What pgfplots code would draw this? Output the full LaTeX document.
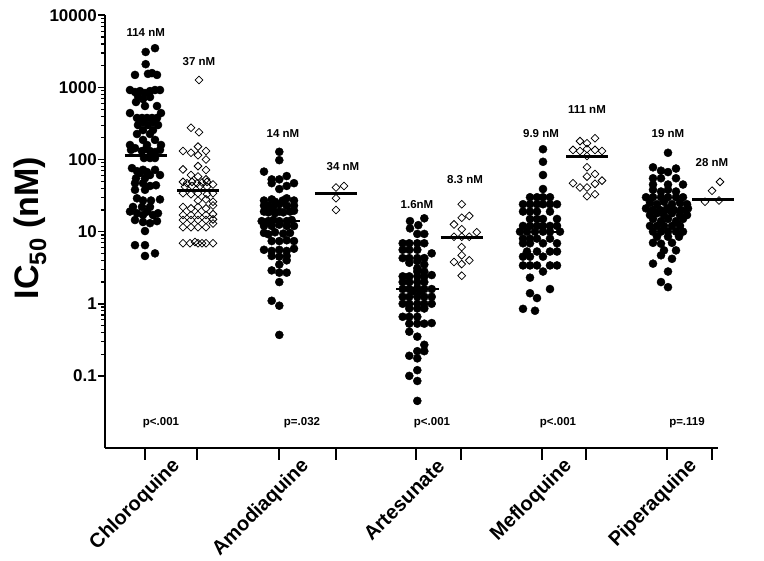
\documentclass[border=0pt]{standalone}
\usepackage{pgfplots}
\pgfplotsset{compat=1.18}
\usepackage{fontspec}
\setmainfont{Liberation Sans}
\pgfplotsset{
  blk/.style={only marks, mark=*, mark size=4.05pt, black},
  dia/.style={only marks, mark=square, mark size=2.75pt, black, line width=0.75pt, mark options={rotate=45, fill=white}},
}
\begin{document}
\begin{tikzpicture}
\useasboundingbox (-105pt,-113pt) rectangle (659pt,448pt);
\begin{axis}[
  scale only axis, width=613pt, height=432.7pt,
  xmin=105, xmax=718, ymin=0.01, ymax=10000, ymode=log,
  axis x line*=bottom, axis y line*=left,
  axis line style={line width=2.4pt, -},
  xtick=\empty,
  ytick={0.1,1,10,100,1000,10000},
  yticklabels={0.1,1,10,100,1000,10000},
  minor ytick={0.2,0.3,0.4,0.5,0.6,0.7,0.8,0.9,2,3,4,5,6,7,8,9,20,30,40,50,60,70,80,90,200,300,400,500,600,700,800,900,2000,3000,4000,5000,6000,7000,8000,9000},
  tick align=outside, major tick length=7pt, minor tick length=4pt,
  tick style={line width=1.6pt, black},
  minor tick style={line width=1.2pt},
  yticklabel style={font=\bfseries\fontsize{17}{17}\selectfont, inner sep=1pt},
  clip=false,
]
% Chloroquine
\addplot[blk] coordinates {
(155,3500)(145.7,3100)(145.7,2100)
(135,1490)(148,1540)(152,1580)(157,1490)
(130,920)(135,863)(140,890)(145,836)(150,890)(155,920)(160,920)(138,760)(150,736)(143,690)
(136,627)(145,552)(157,552)(130,441)(161,441)
(137,377)(142,377)(147,377)(152,377)(157,377)
(143,331)(153,331)(138,301)(148,301)(158,301)
(143,256)(153,256)(137,226)(150,226)
(143,187)(155,187)(130,159)(147,159)(161,159)
(131,136)(135,144)(142,131)(146,140)(150,131)(155,127)(160,136)(144,105)(150,105)(155,105)
(132,76)(137,69)(140,65)(143,72)(147,67)(150,61)(155,72)(160,61)(136,55)(145,55)
(135,47)(143,47)(150,43)(156,44)(135,38)(145,38)
(137,29)(143,27)(151,27)(160,28)(133,22)(142,22)(150,22)
(130,19)(137,18)(143,17)(147,19)(153,17)(158,18)
(135,14.5)(143,13.6)(150,13.1)(157,14)(145,10.2)
(135,6.5)(145,6.5)(145,4.6)(155,5.0)
};
\addplot[dia] coordinates {
(199,1270)(191,276)(199,239)
(183,131)(191,124)(198,151)(206,131)
(198,115)(206,100)
(198,81)(183,73)(206,71.5)
(191,61)(198,58)(206,53)
(183,49)(187,47)(192,49)(197,47)(202,48)(207,49)(213,45)(185,42)(192,43)(200,43)(207,42)
(183,34)(191,33)(198,34)(207,33)(213,34)
(198,27)(206,28)(213,26)
(183,22)(191,21)(198,22)(206,21)(213,23)
(183,17)(191,17)(198,17)(206,17)(213,17.5)
(183,14.5)(191,14.5)(198,14.5)(206,14.5)(213,14.8)
(183,11.5)(191,11.5)(198,11.5)(206,11.5)(213,13)
(183,6.9)(190,6.9)(195,7.2)(198,6.9)(202,6.9)(206,6.9)(213,6.9)
};
% Amodiaquine
\addplot[blk] coordinates {
(279.3,128)(279.3,98)(264,68)(286.7,59)(271.7,53)(279.3,53)(271.7,47)(294,47)(286.7,43)(279.3,39)
(264,27)(271.7,28)(275,26)(282.7,27)(286.7,29)(294,27)
(264,23)(268.3,23)(273.3,22)(279.3,24)(286.7,23)(294,23)
(264,19)(268.3,18.5)(271.7,19.5)(275,18)(279.3,19)(283.3,18.5)(290,19)(294,19.5)
(261.7,14)(268.3,14)(273.3,14.5)(279.3,14)(286.7,14)(291.7,14.5)
(264,12)(271.7,12)(279.3,12.5)(286.7,12)(294,12)
(264,9.6)(268.3,9.2)(275,9.8)(283.3,9.4)(290,9.6)
(271.7,7.4)(279.3,7.4)(286.7,7.6)(294,7.4)
(264,5.6)(271.7,5.4)(279.3,5.6)(286.7,5.4)(294,5.8)
(271.7,4.6)(279.3,4.5)(286.7,4.6)
(286.7,4.0)(279.3,3.5)(271.7,2.9)(279.3,2.7)(286.7,2.7)(279.3,2.0)(271.7,1.1)(279.3,0.94)(279.3,0.37)
};
\addplot[dia] coordinates {
(336,41)(344,43)(336,29)(336,20)
};
% Artesunate
\addplot[blk] coordinates {
(410,14)(424.3,15.3)(418.3,12.3)(410,11.1)(417.3,9.3)(424.3,9.3)
(402.7,6.9)(409.3,6.9)(417.3,6.9)(424.3,6.9)
(402.7,5.6)(409.3,5.6)(417.3,5.6)(431.7,5.0)
(402.7,4.3)(409.3,4.3)(417.3,4.3)(424.3,4.3)
(409.3,3.7)(417.3,3.9)(424.3,3.5)(417.3,3.1)
(417.3,2.8)(424.3,2.8)
(402.7,2.4)(409.3,2.4)(417.3,2.4)(424.3,2.4)(431.7,2.5)
(402.7,2.0)(409.3,2.0)(417.3,2.0)(424.3,2.0)
(402.7,1.6)(409.3,1.6)(417.3,1.65)(424.3,1.6)(431.7,1.6)(413.3,1.5)(420,1.5)
(402.7,1.25)(409.3,1.25)(417.3,1.25)(424.3,1.25)(431.7,1.25)
(402.7,1.0)(409.3,1.0)(417.3,1.0)(424.3,1.0)(431.7,1.0)
(409.3,0.86)(417.3,0.86)(424.3,0.86)
(402.7,0.66)(409.3,0.66)(417.3,0.66)
(409.3,0.53)(417.3,0.53)(424.3,0.53)(431.7,0.54)
(409.3,0.41)(417.3,0.35)(424.3,0.27)(417.3,0.22)(424.3,0.22)(409.3,0.19)(417.3,0.175)(417.3,0.12)(409.3,0.10)(417.3,0.085)(417.3,0.045)
};
\addplot[dia] coordinates {
(461.7,24)(461.7,15.6)(469.3,16.5)(454,12.6)(461.7,10.8)(476.7,9.8)(454,8.5)(461.7,8.5)(469.3,8.5)(461.7,6.1)(461.7,4.7)(454,3.8)(461.7,3.55)(469.3,4.0)(461.7,2.45)
};
% Mefloquine
\addplot[blk] coordinates {
(543,139)(543,93)(543,61)(543,39)
(530,30)(537,30)(543,30)(550,30)
(523,24)(530,24)(537,24)(543,24)(550,24)(557,24)
(523,19)(530,19)(537,19)(550,19)
(530,15)(537,15)(543,15)(557,15)
(523,12)(530,12)(537,12)(543,12)(550,12)(557,12)
(520,10)(527,10)(535,10)(543,10)(550,10)(560,10)
(523,8)(530,8)(537,8)(550,8)
(523,6.9)(530,6.9)(543,6.9)(557,6.9)
(527,5.3)(537,5.3)(550,5.3)(557,5.3)
(523,4.5)(530,4.5)(543,4.5)
(523,3.4)(530,3.4)(537,3.4)(550,3.4)(557,3.4)
(543,2.8)(530,2.3)(550,1.6)(530,1.4)(537,1.2)(523,0.85)(535,0.8)
};
\addplot[dia] coordinates {
(580,180)(587,168)(595,197)
(573,136)(580,131)(587,140)(595,136)(602,131)
(587,112)
(587,78)(587,58)(595,63)
(573,47)(580,41)(587,41)(595,46)(602,51)
(587,31)(595,33)
};
% Piperaquine
\addplot[blk] coordinates {
(668,124)(653,78)(661,70)(668,67)(676,75)
(653,55)(661,55)(676,55)(668,45)(683,45)(653,45)
(653,38)(661,36)(668,38)(676,36)
(646,30)(653,30)(661,30)(668,30)(676,30)(683,30)
(650,25)(657,24)(664,26)(672,24)(680,25)(687,24)
(646,21)(653,20)(660,20)(667,21)(674,20)(681,20)(688,21)
(650,17)(657,18)(664,17)(672,18)(680,17)(687,17)
(653,15)(661,14)(668,15)(676,14)(683,15)
(650,12)(657,12)(664,12)(672,12)(680,12)
(653,10)(661,10)(668,10)(676,10)(683,10)
(657,8.5)(668,8.5)(679,8.5)
(653,7)(661,6.8)(672,7)
(664,5.5)(676,5.5)(661,4.7)(672,4.2)
(653,3.6)(668,2.8)(661,2.0)(668,1.7)
};
\addplot[dia] coordinates {
(720,49)(712,37)(705,26)(719,27)
};
% medians
\addplot[line width=2.5pt, black] coordinates {(124.8,114) (166.8,114)};
\addplot[line width=2.5pt, black] coordinates {(177.3,37) (219.3,37)};
\addplot[line width=2.5pt, black] coordinates {(258.5,14) (300.5,14)};
\addplot[line width=2.5pt, black] coordinates {(315,34) (357,34)};
\addplot[line width=2.5pt, black] coordinates {(396.5,1.6) (438.5,1.6)};
\addplot[line width=2.5pt, black] coordinates {(440.7,8.3) (482.7,8.3)};
\addplot[line width=2.5pt, black] coordinates {(521,9.9) (563,9.9)};
\addplot[line width=2.5pt, black] coordinates {(566,111) (608,111)};
\addplot[line width=2.5pt, black] coordinates {(647.3,19) (689.3,19)};
\addplot[line width=2.5pt, black] coordinates {(692,28) (734,28)};
% x ticks
\foreach \t in {145,197,279,336.5,416,460.6,541.6,586.3,667.4,712}{
  \edef\temp{\noexpand\draw[line width=2pt] (axis cs:\t,0.01) -- ++(0pt,-12pt);}\temp
}
% x labels
\begin{scope}[every node/.style={rotate=45, anchor=east, font=\bfseries\fontsize{20}{20}\selectfont, inner sep=0pt}]
\node at (axis cs:177,0.0062) {Chloroquine};
\node at (axis cs:306,0.0062) {Amodiaquine};
\node at (axis cs:441,0.0062) {Artesunate};
\node at (axis cs:569,0.0062) {Mefloquine};
\node at (axis cs:694,0.0062) {Piperaquine};
\end{scope}
% annotations
\begin{scope}[every node/.style={font=\bfseries\fontsize{11.5}{12}\selectfont, inner sep=0pt}]
\node at (axis cs:145.7,5810) {114 nM};
\node at (axis cs:199,2320) {37 nM};
\node at (axis cs:283,231) {14 nM};
\node at (axis cs:343,79.5) {34 nM};
\node at (axis cs:417,23.4) {1.6nM};
\node at (axis cs:465,52) {8.3 nM};
\node at (axis cs:541,231) {9.9 nM};
\node at (axis cs:587,486) {111 nM};
\node at (axis cs:668,231) {19 nM};
\node at (axis cs:712,90) {28 nM};
\node at (axis cs:161,0.0222) {p<.001};
\node at (axis cs:302,0.0222) {p=.032};
\node at (axis cs:432,0.0222) {p<.001};
\node at (axis cs:558,0.0222) {p<.001};
\node at (axis cs:687,0.0222) {p=.119};
\end{scope}
\node[rotate=90, font=\bfseries\fontsize{34}{34}\selectfont] at (axis cs:30,11.2) {IC\textsubscript{50} (nM)};
\end{axis}
\end{tikzpicture}
\end{document}
